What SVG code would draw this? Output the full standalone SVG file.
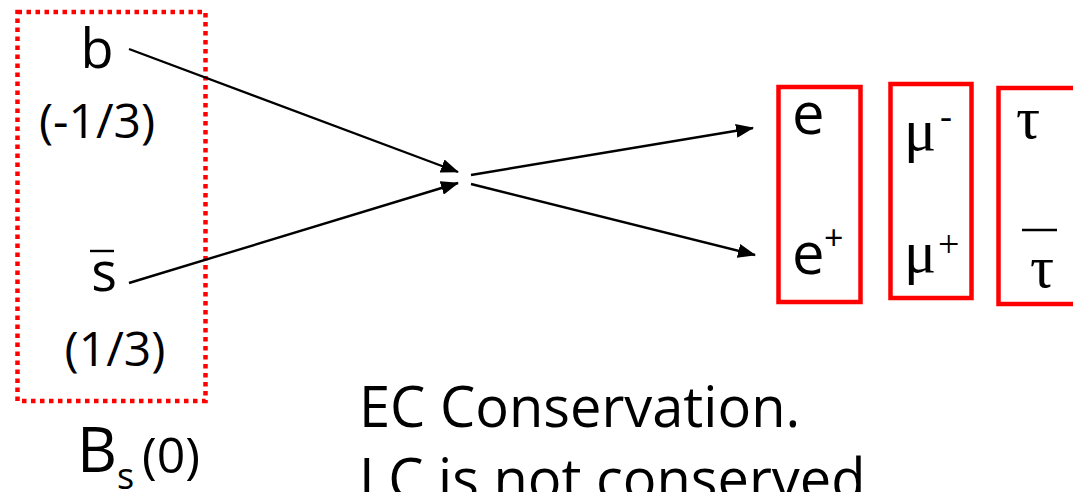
<svg xmlns="http://www.w3.org/2000/svg" width="1073" height="492" viewBox="0 0 1073 492">
  <style>
    .t { font-family: "Open Sans", "Noto Sans", sans-serif; fill: #000; }
    .g { font-family: "Liberation Serif", "DejaVu Serif", serif; fill: #000; }
    .wire { stroke: #000; stroke-width: 2.4; fill: none; }
    .box { stroke: #ff0000; stroke-width: 4.5; fill: none; }
    .dot { stroke: #ff0000; stroke-width: 4.5; fill: none; stroke-dasharray: 4.5 4.5; }
  </style>
  <defs>
    <marker id="ah" viewBox="0 0 18 14" refX="17" refY="7" markerWidth="18" markerHeight="14" markerUnits="userSpaceOnUse" orient="auto">
      <path d="M0,0 L18,7 L0,14 z" fill="#000"/>
    </marker>
  </defs>
  <rect width="1073" height="492" fill="#fff"/>

  <!-- initial meson: quark and antiquark with their charges -->
  <g id="meson">
    <rect class="dot" x="17.5" y="12" width="188" height="389"/>
    <text class="t" x="97" y="68" font-size="54" text-anchor="middle">b</text>
    <text class="t" x="97" y="138" font-size="48" text-anchor="middle">(-1/3)</text>
    <text class="t" x="104" y="291" font-size="54" text-anchor="middle">s</text>
    <line x1="90" y1="251" x2="114" y2="251" stroke="#000" stroke-width="2.4"/>
    <text class="t" x="115" y="366" font-size="48" text-anchor="middle">(1/3)</text>
  </g>

  <g id="meson-label">
    <text class="t" x="77" y="472" font-size="62">B</text>
    <text class="t" x="117" y="489" font-size="36">s</text>
    <text class="t" x="142" y="473" font-size="50">(0)</text>
  </g>

  <!-- final lepton pairs -->
  <g id="electron">
    <rect class="box" x="778.5" y="87" width="82" height="215"/>
    <text class="t" x="792" y="134" font-size="58">e</text>
    <text class="t" x="792" y="274" font-size="58">e</text>
    <text class="t" x="824" y="250" font-size="34">+</text>
  </g>

  <g id="muon">
    <rect class="box" x="890.5" y="84" width="81" height="214"/>
    <text class="g" x="904" y="150" font-size="60">μ</text>
    <text class="g" x="940" y="128" font-size="36">-</text>
    <text class="g" x="904" y="272" font-size="60">μ</text>
    <text class="g" x="938" y="257" font-size="38">+</text>
  </g>

  <g id="tau">
    <rect class="box" x="998.5" y="88" width="90" height="216"/>
    <text class="g" x="1016" y="138" font-size="60">τ</text>
    <line x1="1022" y1="230" x2="1057" y2="230" stroke="#000" stroke-width="2.4"/>
    <text class="g" x="1030" y="287" font-size="60">τ</text>
  </g>

  <!-- annotations -->
  <g id="notes">
    <text class="t" x="359" y="427" font-size="56">EC Conservation.</text>
    <text class="t" x="359" y="499" font-size="56">LC is not conserved</text>
  </g>

  <g id="connectors">
    <line class="wire" x1="129" y1="49" x2="458" y2="172" marker-end="url(#ah)"/>
    <line class="wire" x1="129" y1="283" x2="458" y2="183" marker-end="url(#ah)"/>
    <line class="wire" x1="471" y1="175" x2="753" y2="128" marker-end="url(#ah)"/>
    <line class="wire" x1="471" y1="184" x2="755" y2="255" marker-end="url(#ah)"/>
  </g>
</svg>
